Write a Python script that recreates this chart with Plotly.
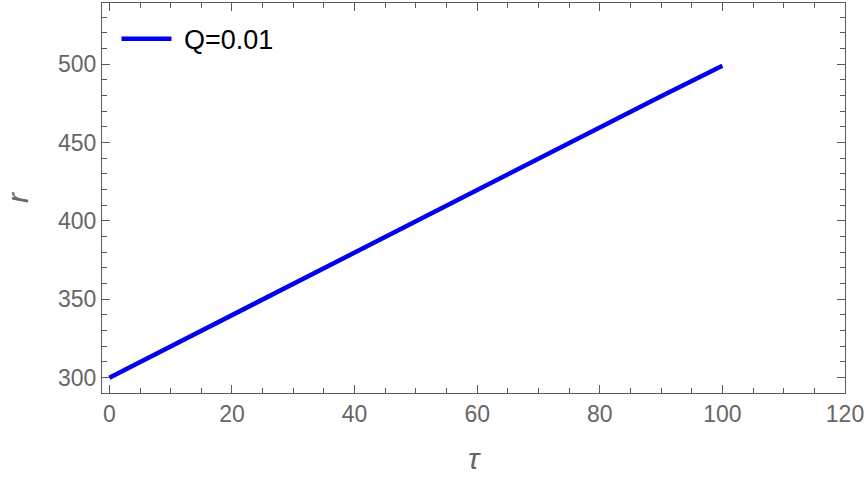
import plotly.graph_objects as go

# proper time vs radius, Q=0.01
tau = [0, 10, 20, 30, 40, 50, 60, 70, 80, 90, 100]
r = [300, 320, 340, 360, 380, 400, 420, 440, 460, 479.5, 499]
series_name = "Q=0.01"

x_ticks = [0, 20, 40, 60, 80, 100, 120]
y_ticks = [300, 350, 400, 450, 500]

axis_color = "#5a5a5a"
label_color = "#666666"

fig = go.Figure()
fig.add_trace(go.Scatter(
    x=tau, y=r, mode="lines", name="\u00a0" + series_name,
    line=dict(color="#0000ee", width=4.5),
))

common = dict(
    showgrid=False, zeroline=False, showline=True, linecolor=axis_color,
    linewidth=1.3, mirror="ticks", ticks="inside", ticklen=8, tickwidth=1.3,
    tickcolor=axis_color, automargin=False, ticklabeloverflow="allow",
    tickfont=dict(family="Liberation Sans", size=23, color=label_color),
)

fig.update_xaxes(
    range=[-1.2, 120], tickvals=x_ticks,
    minor=dict(ticks="inside", dtick=5, ticklen=5, tickwidth=1, tickcolor=axis_color),
    title=dict(text="<i>τ</i>", font=dict(family="Liberation Sans", size=30, color=label_color), standoff=22),
    **common,
)
fig.update_yaxes(
    range=[290.2, 539], tickvals=y_ticks,
    minor=dict(ticks="inside", dtick=10, ticklen=5, tickwidth=1, tickcolor=axis_color),
    title=dict(text="<i>r</i>", font=dict(family="Liberation Sans", size=30, color=label_color), standoff=20),
    **common,
)

fig.update_layout(
    width=864, height=480,
    margin=dict(l=102, r=19, t=3, b=87),
    plot_bgcolor="white", paper_bgcolor="white",
    showlegend=True,
    legend=dict(
        x=0.0195, y=0.97, xanchor="left", yanchor="top",
        bgcolor="rgba(0,0,0,0)", itemwidth=50,
        font=dict(family="Liberation Sans", size=27, color="black"),
    ),
)

# drop the default page margin so the figure sits at the window corner
fig.write_html("out.html", config={"displayModeBar": False},
               post_script="document.body.style.margin='0';")
